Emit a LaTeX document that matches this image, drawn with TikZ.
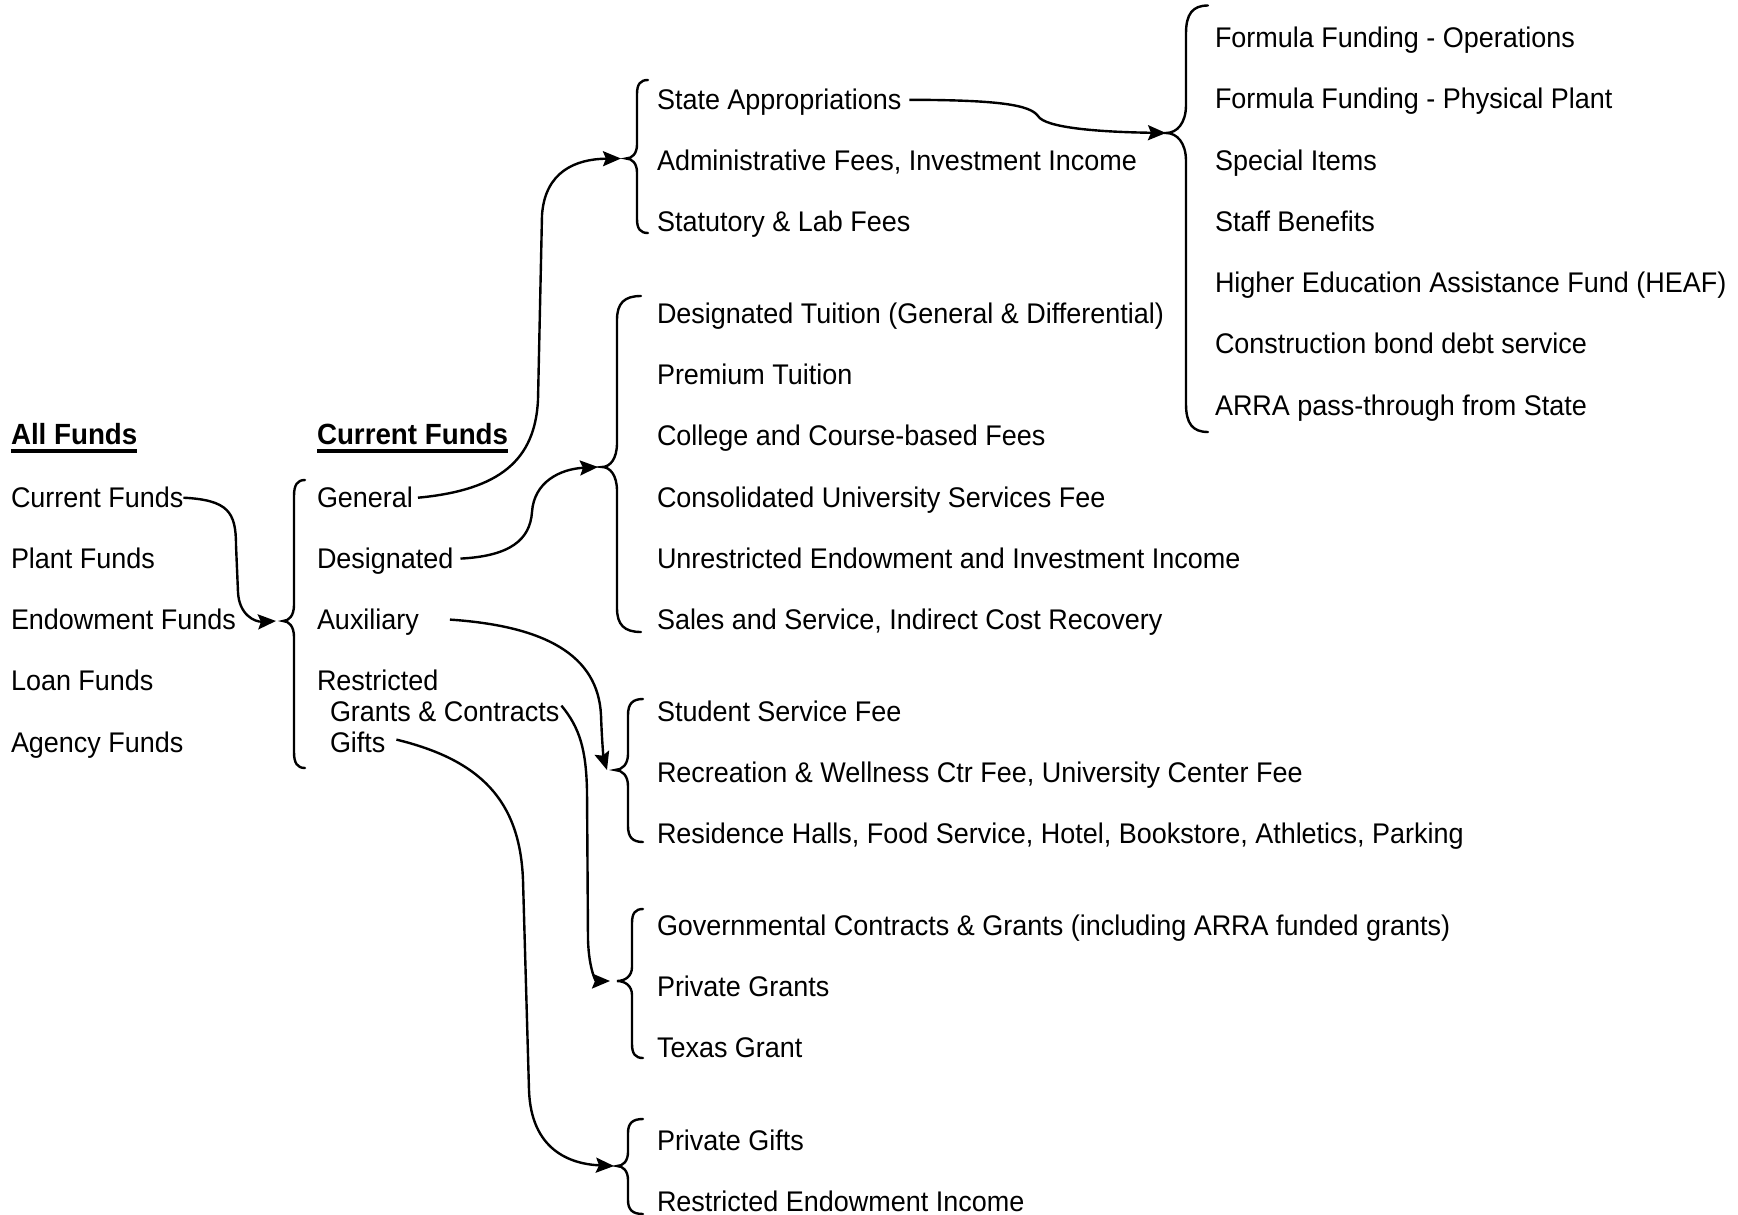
\documentclass[tikz,border=0pt]{standalone}
\usepackage{fontspec}
\setmainfont{Liberation Sans}[FakeStretch=0.95]
\usetikzlibrary{arrows.meta}
\newcommand{\fundbrace}[8]{%
  \coordinate (#1) at (#4,#6);
  \draw[brc] (#2,#5) .. controls ({#3+0.3*(#2-#3)},#5) and (#3,{#5+0.3*#8}) .. (#3,{#5+#8})
    -- (#3,{#6-#8}) .. controls (#3,{#6-0.35*#8}) and ({#3-0.45*(#3-#4)},#6) .. (#1)
    .. controls ({#3-0.45*(#3-#4)},#6) and (#3,{#6+0.35*#8}) .. (#3,{#6+#8})
    -- (#3,{#7-#8}) .. controls (#3,{#7-0.3*#8}) and ({#3+0.3*(#2-#3)},#7) .. (#2,#7);
}
\begin{document}
\begin{tikzpicture}[x=1pt,y=-1pt,
  lbl/.style={anchor=west,inner sep=0pt,outer sep=0pt,text height=20pt,text depth=0pt,
    font=\fontsize{28.4pt}{32pt}\selectfont},
  hdr/.style={lbl,font=\fontsize{29.2pt}{32pt}\selectfont\bfseries},
  brc/.style={line width=2.4pt,line cap=round},
  conn/.style={line width=2.4pt,-{Stealth[length=18pt,width=15pt,inset=3pt]}},
  uline/.style={line width=3.2pt}]
\fill[white] (0,0) rectangle (1738,1215);
\useasboundingbox (0,0) rectangle (1738,1215);

% column 1
\node[hdr] (allf) at (11,434.5) {All Funds};
\node[lbl] (cf) at (11,497.7) {Current Funds};
\node[lbl] (pf) at (11,558.6) {Plant Funds};
\node[lbl] (ef) at (11,619.6) {Endowment Funds};
\node[lbl] (lf) at (11,680.6) {Loan Funds};
\node[lbl] (af) at (11,742.6) {Agency Funds};

% column 2
\node[hdr] (curf) at (317,434.5) {Current Funds};
\node[lbl] (gen) at (317,497.7) {General};
\node[lbl] (des) at (317,558.6) {Designated};
\node[lbl] (aux) at (317,619.6) {Auxiliary};
\node[lbl] (res) at (317,680.6) {Restricted};
\node[lbl] (gc) at (330,711.6) {Grants \& Contracts};
\node[lbl] (gif) at (330,742.6) {Gifts};

\draw[uline] (11,451) -- (allf.east |- 0,451);
\draw[uline] (317,451) -- (curf.east |- 0,451);

% column 3
\node[lbl] (sa) at (657,99.8) {State Appropriations};
\node[lbl] (adm) at (657,160.7) {Administrative Fees, Investment Income};
\node[lbl] (stat) at (657,221.7) {Statutory \& Lab Fees};

\node[lbl] (dt) at (657,313.7) {Designated Tuition (General \& Differential)};
\node[lbl] (pt) at (657,374.6) {Premium Tuition};
\node[lbl] (ccf) at (657,435.6) {College and Course-based Fees};
\node[lbl] (cus) at (657,497.7) {Consolidated University Services Fee};
\node[lbl] (uei) at (657,558.6) {Unrestricted Endowment and Investment Income};
\node[lbl] (ss) at (657,619.6) {Sales and Service, Indirect Cost Recovery};

\node[lbl] (ssf) at (657,711.6) {Student Service Fee};
\node[lbl] (rw) at (657,772.5) {Recreation \& Wellness Ctr Fee, University Center Fee};
\node[lbl] (rh) at (657,833.5) {Residence Halls, Food Service, Hotel, Bookstore, Athletics, Parking};

\node[lbl] (gcg) at (657,925.5) {Governmental Contracts \& Grants (including ARRA funded grants)};
\node[lbl] (pg) at (657,986.5) {Private Grants};
\node[lbl] (tg) at (657,1047.4) {Texas Grant};

\node[lbl] (pgf) at (657,1140.5) {Private Gifts};
\node[lbl] (rei) at (657,1201.5) {Restricted Endowment Income};

% column 4
\node[lbl] (ffo) at (1215,37.7) {Formula Funding - Operations};
\node[lbl] (ffp) at (1215,98.6) {Formula Funding - Physical Plant};
\node[lbl] (si) at (1215,160.7) {Special Items};
\node[lbl] (sb) at (1215,221.7) {Staff Benefits};
\node[lbl] (heaf) at (1215,282.6) {Higher Education Assistance Fund (HEAF)};
\node[lbl] (cbd) at (1215,343.6) {Construction bond debt service};
\node[lbl] (arra) at (1215,405.7) {ARRA pass-through from State};

% braces
\fundbrace{tipCF}{305}{294}{283}{480}{621}{768}{16}
\fundbrace{tipA}{648}{637}{626}{80}{158.5}{233}{14}
\fundbrace{tipB}{641}{617}{602}{296}{467}{632}{24}
\fundbrace{tipC}{643}{628}{615}{699}{770}{842}{16}
\fundbrace{tipD}{643}{632}{617}{909}{981}{1058}{14}
\fundbrace{tipE}{643}{628}{617}{1119}{1166}{1214}{14}
\fundbrace{tipF}{1208}{1186}{1166}{5.5}{133}{432}{28}

% connectors
\draw[conn] (cf.east) .. controls (228,500) and (236,512) .. (236,545)
   -- (238,592) .. controls (239,615) and (255,622) .. ([xshift=-7pt]tipCF);
\draw[conn] ([xshift=5pt]gen.east) .. controls (500,490) and (535,460) .. (538,400)
   -- (542,215) .. controls (545,172) and (575,159) .. ([xshift=-5pt]tipA);
\draw[conn] ([xshift=7pt]des.east) .. controls (510,556) and (530,540) .. (532,512)
   .. controls (534,482) and (560,469) .. ([xshift=-4pt]tipB);
\draw[conn] ([xshift=31pt]aux.east) .. controls (545,626) and (598,655) .. (601,715)
   .. controls (602,745) and (604,760) .. ([xshift=-8pt]tipC);
\draw[conn] ([xshift=2pt,yshift=6pt]gc.east) .. controls (580,728) and (586,750) .. (587,790)
   -- (588,940) .. controls (589,970) and (596,981) .. ([xshift=-7pt]tipD);
\draw[conn] ([xshift=11pt,yshift=3pt]gif.east) .. controls (480,760) and (520,800) .. (523,880)
   -- (529,1090) .. controls (531,1150) and (570,1164) .. ([xshift=-3pt]tipE);
\draw[conn] ([xshift=8pt]sa.east) .. controls (1000,100) and (1030,105) .. (1038,116)
   .. controls (1045,128) and (1100,132) .. (tipF);
\end{tikzpicture}
\end{document}
